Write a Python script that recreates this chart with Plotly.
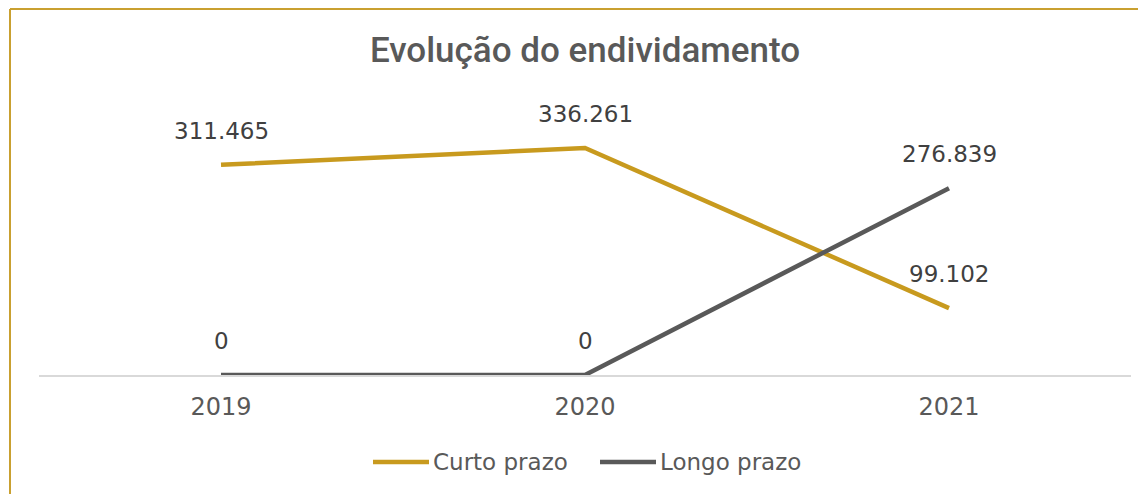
import plotly.graph_objects as go

anos = ["2019", "2020", "2021"]
curto_prazo = [311465, 336261, 99102]
longo_prazo = [0, 0, 276839]

gold = "#C89A1E"
grey = "#595959"
# page body adds an 8px offset, so the figure is shrunk by 8px to avoid scrollbars
W, H = 1138, 486
L, T = 31, 97
PW, PH = 1092, 270
R = W - L - PW
B = H - T - PH


def px_x(sx):
    return (sx - 8 - L) / PW


def px_y(sy):
    return (T + PH - (sy - 8)) / PH


series = [("Curto prazo", curto_prazo, gold), ("Longo prazo", longo_prazo, grey)]

fig = go.Figure()
for name, vals, col in series:
    fig.add_trace(go.Scatter(
        x=anos, y=vals, name=name, mode="lines",
        line=dict(color=col, width=4.5),
    ))
    # data labels above each point
    for i, v in enumerate(vals):
        fig.add_annotation(
            x=i, y=v, text=f"{v:,}".replace(",", "."), showarrow=False,
            yshift=34, font=dict(size=23, color="#404040"),
        )

# legend drawn by hand to get the longer line samples
for k, (name, vals, col) in enumerate(series):
    x0 = 373 + k * 227
    fig.add_shape(type="line", xref="paper", yref="paper",
                  x0=px_x(x0), x1=px_x(x0 + 56), y0=px_y(462), y1=px_y(462),
                  line=dict(color=col, width=4.5))
    fig.add_annotation(xref="paper", yref="paper", x=px_x(x0 + 58), y=px_y(462),
                       text=name, showarrow=False, xanchor="left", yanchor="middle",
                       font=dict(size=23, color=grey))

# gold frame (top and left edges visible)
fig.add_shape(type="line", xref="paper", yref="paper",
              x0=px_x(10), x1=px_x(W + 8), y0=px_y(9), y1=px_y(9),
              line=dict(color="#C9A030", width=2))
fig.add_shape(type="line", xref="paper", yref="paper",
              x0=px_x(10), x1=px_x(10), y0=px_y(9), y1=px_y(H + 8),
              line=dict(color="#C9A030", width=2))

fig.update_layout(
    width=W, height=H,
    margin=dict(l=L, r=R, t=T, b=B),
    paper_bgcolor="white", plot_bgcolor="white",
    font=dict(family="DejaVu Sans", color=grey),
    title=dict(text="Evolução do endividamento", x=(585 - 8) / W, xanchor="center",
               y=1 - 42 / H, yanchor="middle",
               font=dict(family="Roboto", size=35, color=grey, weight=500)),
    showlegend=False,
    xaxis=dict(type="category", range=[-0.5, 2.5], showgrid=False, showline=True,
               linecolor="#D9D9D9", linewidth=2, ticks="", ticklabelstandoff=9,
               tickfont=dict(size=24, color=grey)),
    yaxis=dict(range=[0, 400000], visible=False, showgrid=False, zeroline=False),
)

fig.write_html("out.html")
